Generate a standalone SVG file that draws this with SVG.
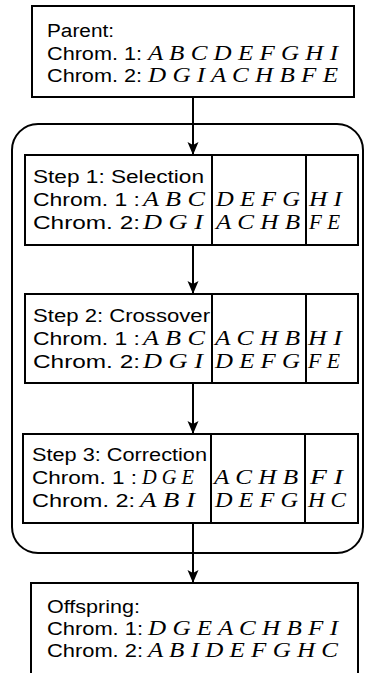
<svg xmlns="http://www.w3.org/2000/svg" width="366" height="673" viewBox="0 0 366 673">
<style>
.box{fill:#fff;stroke:#000;stroke-width:2}
.div{stroke:#000;stroke-width:2}
.s{font-family:"Liberation Sans",Arial,sans-serif;font-size:18px;fill:#000}
.m{font-family:"Liberation Serif","Times New Roman",serif;font-style:italic;font-size:20px;fill:#000}
.c{stroke:#000;stroke-width:2;fill:none}
</style>
<defs>
<marker id="ah" markerUnits="userSpaceOnUse" markerWidth="14" markerHeight="12" refX="13" refY="6" orient="auto">
<path d="M0,0.5 L13,6 L0,11.5 L3,6 z" fill="#000"/>
</marker>
</defs>
<rect x="0" y="0" width="366" height="673" fill="#fff"/>
<g id="loop">
<rect x="12" y="124" width="351" height="429" rx="26" ry="26" class="c"/>
</g>
<g id="connectors">
<line class="c" x1="193" y1="97" x2="193" y2="155" marker-end="url(#ah)"/>
<line class="c" x1="193" y1="245" x2="193" y2="294" marker-end="url(#ah)"/>
<line class="c" x1="193" y1="383" x2="193" y2="434" marker-end="url(#ah)"/>
<line class="c" x1="193" y1="523" x2="193" y2="583" marker-end="url(#ah)"/>
</g>
<g id="parent">
<rect class="box" x="32" y="6" width="322" height="91"/>
<text class="s" x="47" y="37" textLength="67" lengthAdjust="spacingAndGlyphs">Parent:</text>
<text class="s" x="47" y="60" textLength="95" lengthAdjust="spacingAndGlyphs">Chrom. 1:</text>
<text class="m" x="148" y="60" textLength="190" lengthAdjust="spacingAndGlyphs">A B C D E F G H I</text>
<text class="s" x="47" y="82" textLength="95" lengthAdjust="spacingAndGlyphs">Chrom. 2:</text>
<text class="m" x="148" y="82" textLength="190" lengthAdjust="spacingAndGlyphs">D G I A C H B F E</text>
</g>
<g id="step1">
<rect class="box" x="25" y="155" width="333" height="90"/>
<line class="div" x1="212" y1="155" x2="212" y2="245"/>
<line class="div" x1="306" y1="155" x2="306" y2="245"/>
<text class="s" x="33" y="183" textLength="171" lengthAdjust="spacingAndGlyphs">Step 1: Selection</text>
<text class="s" x="33" y="206" textLength="107" lengthAdjust="spacingAndGlyphs">Chrom. 1 :</text>
<text class="m" x="143" y="206" textLength="62" lengthAdjust="spacingAndGlyphs">A B C</text>
<text class="m" x="216" y="206" textLength="84" lengthAdjust="spacingAndGlyphs">D E F G</text>
<text class="m" x="309" y="206" textLength="33" lengthAdjust="spacingAndGlyphs">H I</text>
<text class="s" x="33" y="229" textLength="107" lengthAdjust="spacingAndGlyphs">Chrom. 2:</text>
<text class="m" x="143" y="229" textLength="60" lengthAdjust="spacingAndGlyphs">D G I</text>
<text class="m" x="216" y="229" textLength="84" lengthAdjust="spacingAndGlyphs">A C H B</text>
<text class="m" x="309" y="229" textLength="31" lengthAdjust="spacingAndGlyphs">F E</text>
</g>
<g id="step2">
<rect class="box" x="25" y="294" width="333" height="89"/>
<line class="div" x1="212" y1="294" x2="212" y2="383"/>
<line class="div" x1="306" y1="294" x2="306" y2="383"/>
<text class="s" x="33" y="322" textLength="177" lengthAdjust="spacingAndGlyphs">Step 2: Crossover</text>
<text class="s" x="33" y="345" textLength="107" lengthAdjust="spacingAndGlyphs">Chrom. 1 :</text>
<text class="m" x="143" y="345" textLength="62" lengthAdjust="spacingAndGlyphs">A B C</text>
<text class="m" x="215" y="345" textLength="85" lengthAdjust="spacingAndGlyphs">A C H B</text>
<text class="m" x="308" y="345" textLength="34" lengthAdjust="spacingAndGlyphs">H I</text>
<text class="s" x="33" y="368" textLength="107" lengthAdjust="spacingAndGlyphs">Chrom. 2:</text>
<text class="m" x="143" y="368" textLength="60" lengthAdjust="spacingAndGlyphs">D G I</text>
<text class="m" x="215" y="368" textLength="85" lengthAdjust="spacingAndGlyphs">D E F G</text>
<text class="m" x="308" y="368" textLength="32" lengthAdjust="spacingAndGlyphs">F E</text>
</g>
<g id="step3">
<rect class="box" x="23" y="434" width="335" height="89"/>
<line class="div" x1="211" y1="434" x2="211" y2="523"/>
<line class="div" x1="305" y1="434" x2="305" y2="523"/>
<text class="s" x="32" y="461" textLength="175" lengthAdjust="spacingAndGlyphs">Step 3: Correction</text>
<text class="s" x="32" y="484" textLength="105" lengthAdjust="spacingAndGlyphs">Chrom. 1 :</text>
<text class="m" x="142" y="484" textLength="52" lengthAdjust="spacingAndGlyphs">D G E</text>
<text class="m" x="214" y="484" textLength="84" lengthAdjust="spacingAndGlyphs">A C H B</text>
<text class="m" x="310" y="484" textLength="33" lengthAdjust="spacingAndGlyphs">F I</text>
<text class="s" x="32" y="507" textLength="103" lengthAdjust="spacingAndGlyphs">Chrom. 2:</text>
<text class="m" x="140" y="507" textLength="55" lengthAdjust="spacingAndGlyphs">A B I</text>
<text class="m" x="215" y="507" textLength="83" lengthAdjust="spacingAndGlyphs">D E F G</text>
<text class="m" x="308" y="507" textLength="38" lengthAdjust="spacingAndGlyphs">H C</text>
</g>
<g id="offspring">
<rect class="box" x="31" y="583" width="327" height="110"/>
<text class="s" x="47" y="613" textLength="93" lengthAdjust="spacingAndGlyphs">Offspring:</text>
<text class="s" x="47" y="635" textLength="96" lengthAdjust="spacingAndGlyphs">Chrom. 1:</text>
<text class="m" x="148" y="635" textLength="190" lengthAdjust="spacingAndGlyphs">D G E A C H B F I</text>
<text class="s" x="47" y="657" textLength="96" lengthAdjust="spacingAndGlyphs">Chrom. 2:</text>
<text class="m" x="148" y="657" textLength="190" lengthAdjust="spacingAndGlyphs">A B I D E F G H C</text>
</g>
</svg>
